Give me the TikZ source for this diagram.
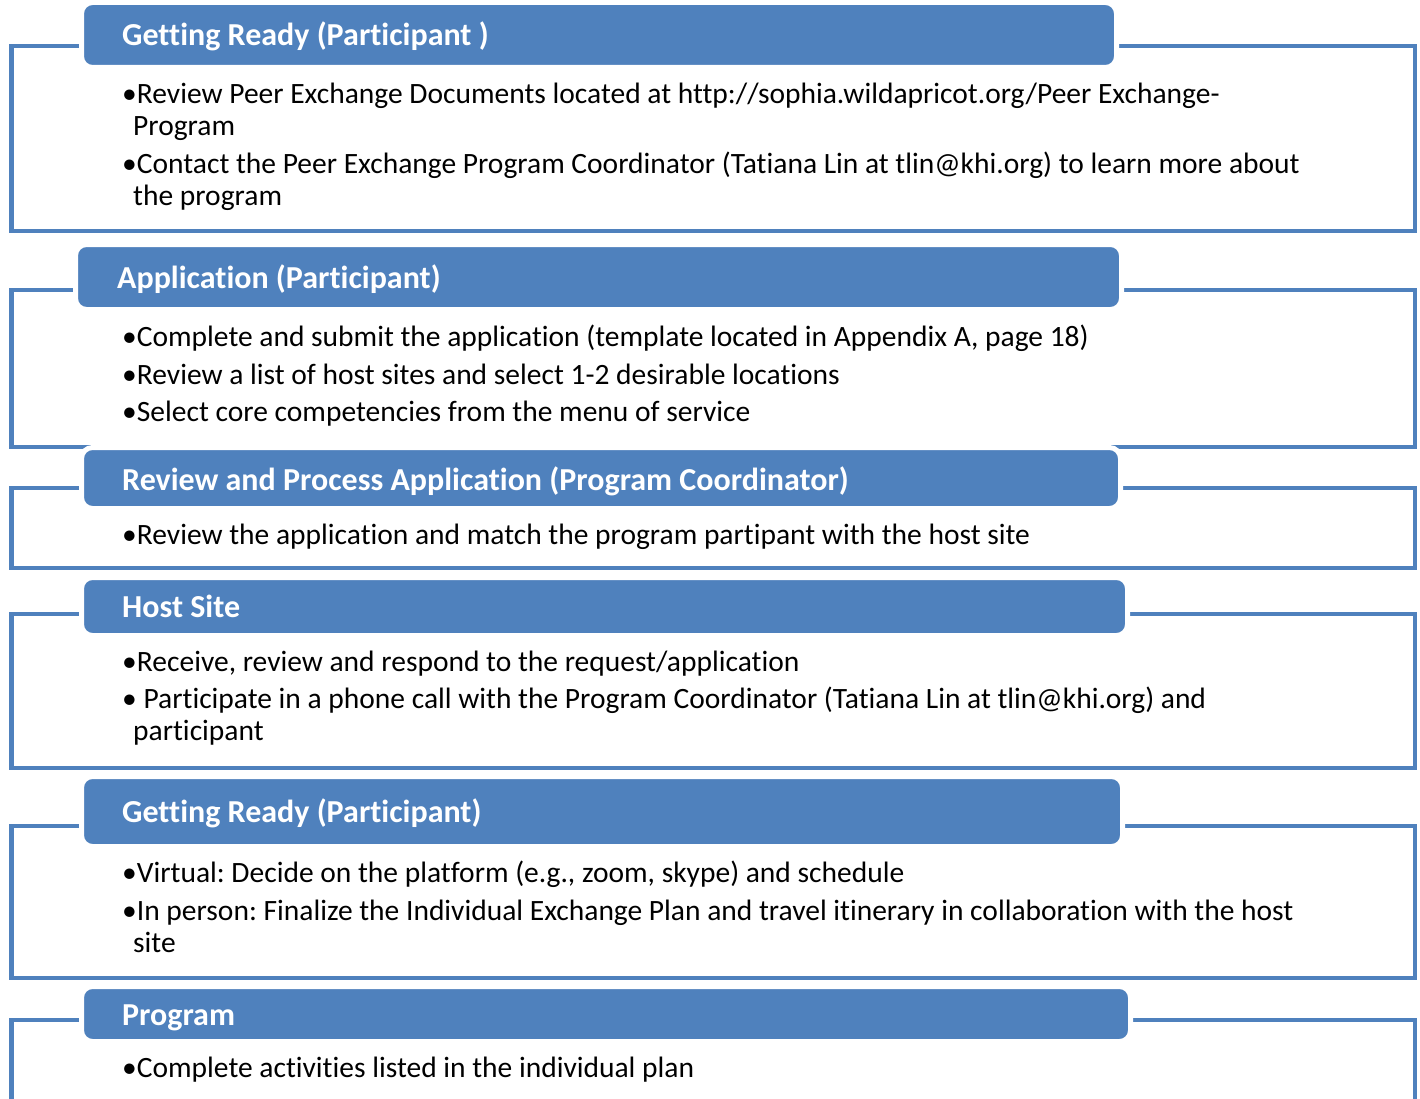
\documentclass[tikz,border=0pt]{standalone}
\usepackage{fontspec}
\setmainfont{Carlito}[Ligatures=CommonOff]
\definecolor{accent}{HTML}{4F81BD}
\tikzset{
  frame/.style={draw=accent, line width=4.5pt},
  hdr/.style={fill=accent, draw=white, line width=5pt, rounded corners=11pt,
    anchor=north west, inner sep=0pt, outer sep=0pt},
  hdrtxt/.style={anchor=base west, inner sep=0pt, text=white,
    font=\fontsize{32}{38}\selectfont\bfseries},
  body/.style={anchor=base west, inner sep=0pt,
    font=\fontsize{29.5}{35}\selectfont},
}
\frenchspacing
\begin{document}
\begin{tikzpicture}[x=1pt,y=-1pt]
\useasboundingbox (0,0) rectangle (1420,1099);
\clip (0,0) rectangle (1420,1099);

% --- Getting Ready (Participant )
\draw[frame] (11.5,46) rectangle (1415,231);
\node[hdr, minimum width=1035, minimum height=65] (h1) at (81.5,2.5) {};
\node[hdrtxt] (h1t) at (122,45.5) {Getting Ready (Participant )};
\node[body] (b11) at (122,103.5) {•Review Peer Exchange Documents located at http://sophia.wildapricot.org/Peer Exchange-};
\node[body] (b12) at (133,135.5) {Program};
\node[body] (b13) at (122,173.5) {•Contact the Peer Exchange Program Coordinator (Tatiana Lin at tlin@khi.org) to learn more about};
\node[body] (b14) at (133,205.5) {the program};

% --- Application (Participant)
\draw[frame] (11.5,290) rectangle (1415,447);
\node[hdr, minimum width=1046, minimum height=65] (h2) at (75.5,244.5) {};
\node[hdrtxt] (h2t) at (117,288.5) {Application (Participant)};
\node[body] (b21) at (122,346.5) {•Complete and submit the application (template located in Appendix A, page 18)};
\node[body] (b22) at (122,384.5) {•Review a list of host sites and select 1-2 desirable locations};
\node[body] (b23) at (122,421.5) {•Select core competencies from the menu of service};

% --- Review and Process Application (Program Coordinator)
\draw[frame] (11.5,488) rectangle (1415,568);
\node[hdr, minimum width=1039, minimum height=61] (h3) at (81.5,447.5) {};
\node[hdrtxt] (h3t) at (122,490.5) {Review and Process Application (Program Coordinator)};
\node[body] (b31) at (122,544.5) {•Review the application and match the program partipant with the host site};

% --- Host Site
\draw[frame] (11.5,614) rectangle (1415,768);
\node[hdr, minimum width=1046, minimum height=58] (h4) at (81.5,577.5) {};
\node[hdrtxt] (h4t) at (122,617.5) {Host Site};
\node[body] (b41) at (122,671.5) {•Receive, review and respond to the request/application};
\node[body] (b42) at (122,708.5) {• Participate in a phone call with the Program Coordinator (Tatiana Lin at tlin@khi.org) and};
\node[body] (b43) at (133,740.5) {participant};

% --- Getting Ready (Participant)
\draw[frame] (11.5,826) rectangle (1415,978);
\node[hdr, minimum width=1041, minimum height=70] (h5) at (81.5,776.5) {};
\node[hdrtxt] (h5t) at (122,822.5) {Getting Ready (Participant)};
\node[body] (b51) at (122,882.5) {•Virtual: Decide on the platform (e.g., zoom, skype) and schedule};
\node[body] (b52) at (122,920.5) {•In person: Finalize the Individual Exchange Plan and travel itinerary in collaboration with the host};
\node[body] (b53) at (133,952.5) {site};

% --- Program
\draw[frame] (1415,1130) -- (1415,1020) -- (11.5,1020) -- (11.5,1130);
\node[hdr, minimum width=1049, minimum height=55] (h6) at (81.5,986.5) {};
\node[hdrtxt] (h6t) at (122,1025.5) {Program};
\node[body] (b61) at (122,1077.5) {•Complete activities listed in the individual plan};
\end{tikzpicture}
\end{document}
